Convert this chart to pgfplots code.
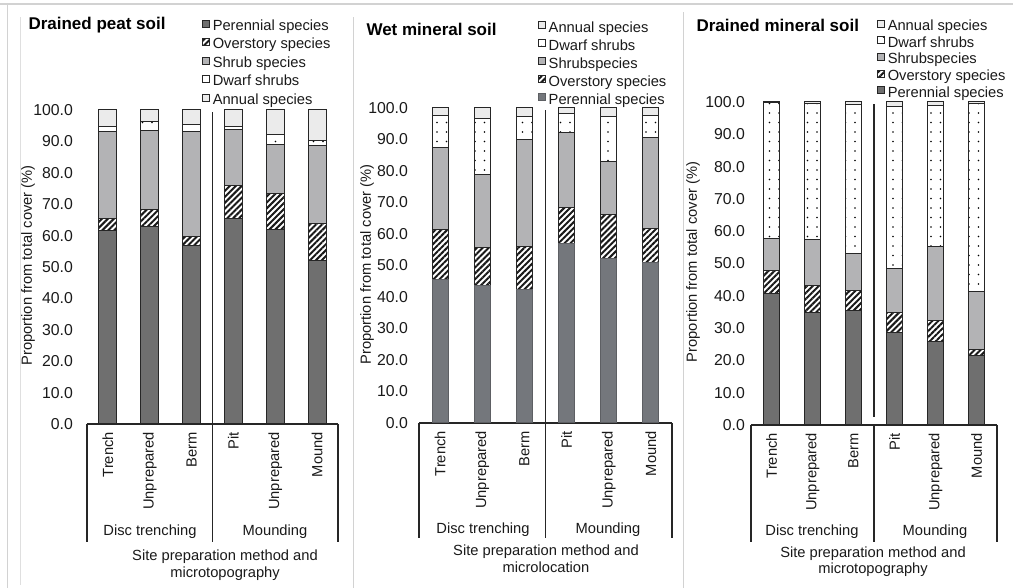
\documentclass[border=0pt]{standalone}
\usepackage{fontspec}
\setmainfont{Liberation Sans}
\usepackage{pgfplots}
\pgfplotsset{compat=1.18}
\usetikzlibrary{patterns.meta}

\definecolor{perc}{HTML}{6F6F6F}
\definecolor{percb}{HTML}{74777C}
\definecolor{shrubc}{HTML}{B3B3B5}
\definecolor{annc}{HTML}{EBEBEB}
\definecolor{edgec}{HTML}{262626}
\definecolor{framec}{HTML}{D2D2D2}
\definecolor{textc}{HTML}{1A1A1A}

\newcommand{\lfont}{\fontsize{14.7}{16.5}\selectfont}
\newcommand{\tfont}{\fontsize{15.8}{17}\selectfont}
\newcommand{\hfont}{\fontsize{17}{19}\selectfont\bfseries}

\pgfplotsset{
  legimg/.style={legend image code/.code={
      \draw[##1, line width=0.8pt] (0pt,-0.5pt) rectangle (7pt,6.5pt);}},
  perennial/.style={fill=perc, draw=edgec, line width=1pt, legimg},
  overstory/.style={fill=white, draw=edgec, line width=1pt,
      postaction={pattern={Lines[angle=45,distance=4.2pt,line width=2pt]},
                  pattern color=black!90}, legimg},
  shrub/.style={fill=shrubc, draw=edgec, line width=1pt, legimg},
  dwarf/.style={fill=white, draw=edgec, line width=1pt,
      postaction={pattern={Dots[distance=9.5pt,radius=0.8pt]}}, legimg},
  annual/.style={fill=annc, draw=edgec, line width=1pt, legimg},
  panel/.style={
    scale only axis, anchor=south west, clip=false,
    ybar stacked,
    xmin=-0.5, xmax=5.5, ymin=0, ymax=100,
    xtick={0,...,5},
    xticklabels={Trench,Unprepared,Berm,Pit,Unprepared,Mound},
    ytick={0,10,...,100},
    major tick length=0pt,
    axis line style={draw=none},
    xticklabel style={font=\lfont, text=textc, anchor=east, rotate=90,
       inner ysep=0pt, inner xsep=8pt},
    yticklabel style={font=\tfont, text=textc, anchor=east, inner ysep=0pt,
       /pgf/number format/fixed, /pgf/number format/fixed zerofill,
       /pgf/number format/precision=1, /pgf/number format/assume math mode=true},
    legend cell align=left,
    legend style={draw=none, fill=none, font=\lfont, text=textc,
       inner sep=0pt, outer sep=0pt, anchor=north west, column sep=3pt,
       nodes={inner sep=0pt, text height=11pt, text depth=3.5pt}},
  },
}

\begin{document}
\begin{tikzpicture}[x=1pt,y=1pt]
\path[use as bounding box] (0,0) rectangle (1013,588);
\fill[white] (0,0) rectangle (1013,588);

% page frame
\draw[framec, line width=1.2pt] (0,584) -- (1013,584);
\draw[framec, line width=1pt] (7,0) -- (7,584);
\draw[framec!70, line width=1pt] (20,3) -- (20,571);
\draw[framec, line width=1pt] (353,0) -- (353,571);
\draw[framec, line width=1pt] (683,0) -- (683,576);

% ---------------- Drained peat soil ----------------
\begin{axis}[panel, at={(87pt,164pt)}, width=251pt, height=314pt, bar width=18pt,
  yticklabel style={inner xsep=14pt},
  legend style={at={(0.458,1.289)}, row sep=4pt}]
\addplot[perennial] coordinates {(0,61.5) (1,62.8) (2,57.0) (3,65.5) (4,62.0) (5,52.2)};
\addplot[overstory] coordinates {(0,3.8) (1,5.6) (2,2.7) (3,10.5) (4,11.5) (5,11.7)};
\addplot[shrub]     coordinates {(0,28.0) (1,25.2) (2,33.6) (3,17.8) (4,15.4) (5,24.7)};
\addplot[dwarf]     coordinates {(0,1.6) (1,2.7) (2,2.1) (3,0.9) (4,3.2) (5,1.6)};
\addplot[annual]    coordinates {(0,5.1) (1,3.7) (2,4.6) (3,5.3) (4,7.9) (5,9.8)};
\legend{Perennial species, Overstory species, Shrub species, Dwarf shrubs, Annual species}
\draw[edgec, line width=1.2pt] (axis cs:-0.5,0) -- (axis cs:5.5,0);
\draw[edgec, line width=1.2pt] (axis cs:-0.5,0) -- (axis cs:-0.5,-37.6);
\draw[edgec, line width=1.2pt] (axis cs:5.5,0) -- (axis cs:5.5,-37.6);
\draw[edgec, line width=1.2pt] (axis cs:2.5,99.3) -- (axis cs:2.5,-37.6);
\end{axis}
\node[anchor=west, font=\hfont, text=black] at (25,563) {Drained peat soil};
\node[font=\lfont, text=textc, rotate=90] at (28,322.5) {Proportion from total cover (\%)};
\node[font=\lfont, text=textc] at (150,56) {Disc trenching};
\node[font=\lfont, text=textc] at (275,56) {Mounding};
\node[font=\lfont, text=textc, align=center] at (225,23) {Site preparation method and\\microtopography};

% ---------------- Wet mineral soil ----------------
\begin{axis}[panel, at={(419pt,165pt)}, width=253pt, height=315pt, bar width=16pt,
  yticklabel style={inner xsep=11pt}, reverse legend,
  legend style={at={(0.470,1.276)}, row sep=3.5pt}]
\addplot[perennial, fill=percb, draw=percb!80!black] coordinates {(0,45.4) (1,43.7) (2,42.5) (3,56.9) (4,52.1) (5,51.1)};
\addplot[overstory] coordinates {(0,15.9) (1,12.0) (2,13.5) (3,11.6) (4,14.0) (5,10.8)};
\addplot[shrub]     coordinates {(0,26.2) (1,23.1) (2,33.9) (3,23.7) (4,17.0) (5,28.6)};
\addplot[dwarf]     coordinates {(0,10.1) (1,17.9) (2,7.4) (3,6.1) (4,14.2) (5,7.1)};
\addplot[annual]    coordinates {(0,2.4) (1,3.3) (2,2.7) (3,1.7) (4,2.7) (5,2.4)};
\legend{Perennial species, Overstory species, Shrubspecies, Dwarf shrubs, Annual species}
\draw[edgec, line width=1.2pt] (axis cs:-0.5,0) -- (axis cs:5.5,0);
\draw[edgec, line width=1.2pt] (axis cs:-0.5,0) -- (axis cs:-0.5,-36.5);
\draw[edgec, line width=1.2pt] (axis cs:5.5,0) -- (axis cs:5.5,-36.5);
\draw[edgec, line width=1.2pt] (axis cs:2.5,99.3) -- (axis cs:2.5,-36.5);
\end{axis}
\node[anchor=west, font=\hfont, text=black] at (363,559) {Wet mineral soil};
\node[font=\lfont, text=textc, rotate=90] at (367,323.5) {Proportion from total cover (\%)};
\node[font=\lfont, text=textc] at (483,58) {Disc trenching};
\node[font=\lfont, text=textc] at (608,58) {Mounding};
\node[font=\lfont, text=textc, align=center] at (546,29) {Site preparation method and\\microlocation};

% ---------------- Drained mineral soil ----------------
\begin{axis}[panel, at={(751pt,163pt)}, width=246pt, height=323pt, bar width=16.5pt,
  yticklabel style={inner xsep=6pt}, reverse legend,
  legend style={at={(0.512,1.256)}, row sep=2.2pt}]
\addplot[perennial] coordinates {(0,40.7) (1,34.9) (2,35.3) (3,28.6) (4,26.0) (5,21.6)};
\addplot[overstory] coordinates {(0,7.0) (1,8.2) (2,6.2) (3,6.2) (4,6.5) (5,1.9)};
\addplot[shrub]     coordinates {(0,10.0) (1,14.2) (2,11.5) (3,13.6) (4,22.9) (5,17.8)};
\addplot[dwarf]     coordinates {(0,42.1) (1,42.1) (2,46.3) (3,50.1) (4,43.4) (5,58.1)};
\addplot[annual]    coordinates {(0,0.2) (1,0.6) (2,0.7) (3,1.5) (4,1.2) (5,0.6)};
\legend{Perennial species, Overstory species, Shrubspecies, Dwarf shrubs, Annual species}
\draw[edgec, line width=1.2pt] (axis cs:-0.5,0) -- (axis cs:5.5,0);
\draw[edgec, line width=1.2pt] (axis cs:-0.5,0) -- (axis cs:-0.5,-36.2);
\draw[edgec, line width=1.2pt] (axis cs:5.5,0) -- (axis cs:5.5,-36.2);
\draw[edgec, line width=1.2pt] (axis cs:2.5,99.3) -- (axis cs:2.5,2.6);
\draw[edgec, line width=1.2pt] (axis cs:2.5,0) -- (axis cs:2.5,-36.2);
\end{axis}
\node[anchor=west, font=\hfont, text=black] at (693,563) {Drained mineral soil};
\node[font=\lfont, text=textc, rotate=90] at (693,326) {Proportion from total cover (\%)};
\node[font=\lfont, text=textc] at (812,56) {Disc trenching};
\node[font=\lfont, text=textc] at (935,56) {Mounding};
\node[font=\lfont, text=textc, align=center] at (873,26.4) {Site preparation method and\\microtopography};
\end{tikzpicture}
\end{document}
